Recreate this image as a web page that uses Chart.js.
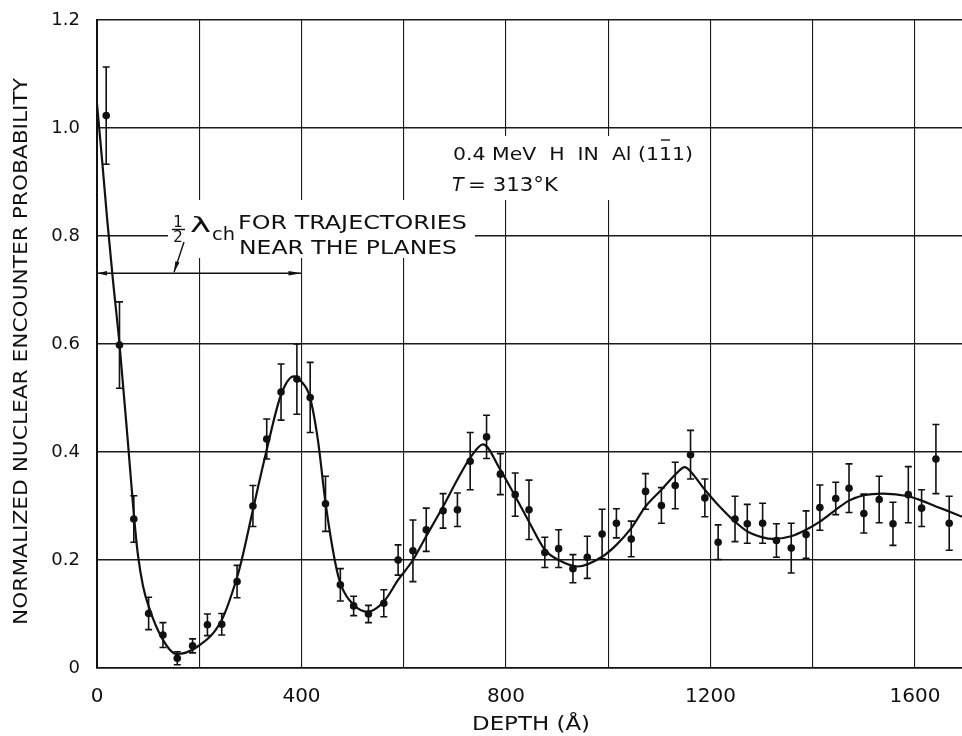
<!DOCTYPE html>
<html>
<head>
<meta charset="utf-8">
<title>Nuclear encounter probability vs depth</title>
<script src="https://cdn.jsdelivr.net/npm/chart.js@4.4.1/dist/chart.umd.min.js"></script>
<style>
  body { margin: 0; background: #fff; }
  canvas { display: block; }
</style>
</head>
<body>
<canvas id="chart" width="962" height="736"></canvas>
<script>
// measured points: depth (Å), normalized probability, half error bar
const depth = [18, 44, 72, 101, 129, 157, 187, 216, 244, 274,
  305, 332, 360, 391, 417, 447, 476, 502, 531, 561,
  589, 618, 644, 677, 705, 730, 762, 789, 818, 845,
  876, 903, 931, 959, 988, 1016, 1045, 1073, 1104, 1131,
  1161, 1189, 1215, 1248, 1272, 1302, 1329, 1358, 1387, 1414,
  1445, 1471, 1500, 1530, 1557, 1587, 1613, 1641, 1667];
const probability = [1.023, 0.598, 0.276, 0.101, 0.061, 0.018, 0.041, 0.080, 0.081, 0.160,
  0.300, 0.424, 0.511, 0.535, 0.501, 0.304, 0.154, 0.115, 0.100, 0.120,
  0.200, 0.217, 0.256, 0.291, 0.293, 0.383, 0.428, 0.359, 0.321, 0.293,
  0.214, 0.221, 0.184, 0.205, 0.248, 0.268, 0.239, 0.327, 0.301, 0.338,
  0.395, 0.315, 0.233, 0.276, 0.267, 0.268, 0.236, 0.222, 0.247, 0.297,
  0.314, 0.333, 0.286, 0.312, 0.267, 0.321, 0.296, 0.387, 0.268];
const errors = [0.09, 0.08, 0.043, 0.03, 0.023, 0.012, 0.013, 0.02, 0.02, 0.03,
  0.038, 0.037, 0.052, 0.065, 0.065, 0.051, 0.03, 0.018, 0.016, 0.025,
  0.028, 0.057, 0.04, 0.032, 0.031, 0.053, 0.04, 0.038, 0.04, 0.055,
  0.028, 0.035, 0.026, 0.039, 0.046, 0.027, 0.033, 0.033, 0.033, 0.043,
  0.045, 0.035, 0.032, 0.042, 0.036, 0.037, 0.031, 0.046, 0.044, 0.042,
  0.03, 0.045, 0.036, 0.043, 0.04, 0.052, 0.034, 0.064, 0.05];

// smooth fitted curve through the data
const fitDepth = [0, 10, 20, 31, 44, 62, 72, 80, 90, 101, 129, 155, 194, 244, 274, 283, 305, 331, 360, 385, 400, 416,
  432, 447, 465, 476, 502, 530, 561, 589, 618, 644, 677, 705, 730, 755, 789, 818, 845, 876, 903, 941,
  988, 1016, 1045, 1073, 1104, 1131, 1150, 1161, 1189, 1215, 1248, 1272, 1302, 1322, 1358, 1387, 1414,
  1445, 1471, 1500, 1538, 1587, 1613, 1641, 1667, 1692];
const fitValue = [1.045, 0.94, 0.83, 0.72, 0.60, 0.40, 0.285, 0.21, 0.152, 0.114, 0.052, 0.026, 0.038, 0.089, 0.168, 0.20, 0.293, 0.40, 0.506, 0.54, 0.53, 0.503,
  0.423, 0.306, 0.20, 0.157, 0.117, 0.104, 0.123, 0.163, 0.20, 0.244, 0.299, 0.349, 0.389, 0.414, 0.367, 0.318, 0.271, 0.219, 0.20, 0.188,
  0.206, 0.228, 0.259, 0.299, 0.33, 0.358, 0.372, 0.364, 0.33, 0.302, 0.271, 0.253, 0.242, 0.239, 0.244, 0.256, 0.271,
  0.293, 0.31, 0.32, 0.323, 0.318, 0.31, 0.299, 0.29, 0.28];

const xTicks = [0, 400, 800, 1200, 1600];
const yTicks = ['0', '0.2', '0.4', '0.6', '0.8', '1.0', '1.2'];

const INK = '#111';
const FONT = '"DejaVu Sans"';

// draw text squeezed/stretched to a given width
function fitText(ctx, text, x, y, width, align) {
  const w = ctx.measureText(text).width;
  ctx.save();
  ctx.translate(x, y);
  ctx.scale(width / w, 1);
  ctx.textAlign = align || 'left';
  ctx.fillText(text, 0, 0);
  ctx.restore();
  return width / w;
}

function arrowHead(ctx, x, y, angle, len, half) {
  ctx.save();
  ctx.translate(x, y);
  ctx.rotate(angle);
  ctx.beginPath();
  ctx.moveTo(0, 0);
  ctx.lineTo(-len, -half);
  ctx.lineTo(-len, half);
  ctx.closePath();
  ctx.fill();
  ctx.restore();
}

const errorBars = {
  id: 'errorBars',
  afterDatasetsDraw(chart) {
    const { ctx, scales: { x, y } } = chart;
    ctx.save();
    ctx.strokeStyle = INK;
    ctx.lineWidth = 1.6;
    depth.forEach((d, i) => {
      const px = x.getPixelForValue(d);
      const top = y.getPixelForValue(probability[i] + errors[i]);
      const bot = y.getPixelForValue(probability[i] - errors[i]);
      ctx.beginPath();
      ctx.moveTo(px, top); ctx.lineTo(px, bot);
      ctx.moveTo(px - 3.5, top); ctx.lineTo(px + 3.5, top);
      ctx.moveTo(px - 3.5, bot); ctx.lineTo(px + 3.5, bot);
      ctx.stroke();
    });
    ctx.restore();
  }
};

const notes = {
  id: 'notes',
  afterDraw(chart) {
    const { ctx, scales: { x, y } } = chart;
    ctx.save();
    ctx.strokeStyle = INK;

    // white boxes behind the labels break the grid
    ctx.fillStyle = '#fff';
    ctx.fillRect(168, 200, 307, 58);
    ctx.fillRect(440, 136, 262, 64);
    ctx.fillStyle = INK;

    // axis titles
    ctx.textBaseline = 'middle';
    ctx.font = '20px ' + FONT;
    ctx.save();
    ctx.translate(22, 351.5);
    ctx.rotate(-Math.PI / 2);
    fitText(ctx, 'NORMALIZED NUCLEAR ENCOUNTER PROBABILITY', 0, 0, 547, 'center');
    ctx.restore();
    ctx.font = '20px ' + FONT;
    fitText(ctx, 'DEPTH (Å)', 531, 725, 118, 'center');

    // beam / target label
    ctx.textBaseline = 'alphabetic';
    ctx.font = '18px ' + FONT;
    const line1 = '0.4 MeV  H  IN  Al (111)';
    const k = fitText(ctx, line1, 453, 160, 240, 'left');
    const pre = ctx.measureText('0.4 MeV  H  IN  Al (1').width * k;
    const one = ctx.measureText('1').width * k;
    ctx.lineWidth = 1.4;
    ctx.beginPath();
    ctx.moveTo(453 + pre + 2, 140);
    ctx.lineTo(453 + pre + one - 2, 140);
    ctx.stroke();
    ctx.font = 'italic 19px ' + FONT;
    ctx.fillText('T', 452, 190.5);
    ctx.font = '19px ' + FONT;
    fitText(ctx, '= 313°K', 468, 190.5, 90, 'left');

    // 1/2 lambda_ch label
    ctx.font = '15px ' + FONT;
    ctx.textAlign = 'center';
    ctx.fillText('1', 178, 227);
    ctx.fillText('2', 178, 242);
    ctx.lineWidth = 1.4;
    ctx.beginPath();
    ctx.moveTo(172, 229.5); ctx.lineTo(185, 229.5);
    ctx.stroke();
    ctx.textAlign = 'left';
    ctx.font = '22px ' + FONT;
    fitText(ctx, 'λ', 190, 232, 21, 'left');
    ctx.font = '18px ' + FONT;
    fitText(ctx, 'ch', 212, 240, 23, 'left');
    ctx.font = '20px ' + FONT;
    fitText(ctx, 'FOR TRAJECTORIES', 238, 228.5, 229, 'left');
    fitText(ctx, 'NEAR THE PLANES', 239, 253.5, 218, 'left');

    // span arrow from 0 to 400 Å
    const ay = y.getPixelForValue(0.731);
    const ax0 = x.getPixelForValue(0);
    const ax1 = x.getPixelForValue(400);
    ctx.lineWidth = 1.4;
    ctx.beginPath();
    ctx.moveTo(ax0, ay); ctx.lineTo(ax1, ay);
    ctx.stroke();
    arrowHead(ctx, ax1, ay, 0, 13, 2.2);
    arrowHead(ctx, ax0, ay, Math.PI, 10, 2.2);
    // leader from the label
    const lx0 = 184, ly0 = 242, lx1 = 174, ly1 = ay - 1;
    ctx.beginPath();
    ctx.moveTo(lx0, ly0); ctx.lineTo(lx1, ly1);
    ctx.stroke();
    arrowHead(ctx, lx1, ly1, Math.atan2(ly1 - ly0, lx1 - lx0), 11, 2.2);

    ctx.restore();
  }
};

new Chart(document.getElementById('chart').getContext('2d'), {
  type: 'scatter',
  data: {
    datasets: [{
      label: 'fit',
      data: fitDepth.map((d, i) => ({ x: d, y: fitValue[i] })),
      showLine: true,
      borderColor: INK,
      borderWidth: 2.2,
      pointRadius: 0,
      cubicInterpolationMode: 'monotone',
      order: 2
    }, {
      label: 'measured',
      data: depth.map((d, i) => ({ x: d, y: probability[i] })),
      pointRadius: 3.8,
      backgroundColor: INK,
      borderColor: INK,
      borderWidth: 0,
      order: 1
    }]
  },
  options: {
    responsive: false,
    animation: false,
    devicePixelRatio: 1,
    layout: { autoPadding: false, padding: { top: 20, right: 0, left: 0, bottom: 0 } },
    plugins: { legend: { display: false }, tooltip: { enabled: false } },
    scales: {
      x: {
        type: 'linear',
        min: 0,
        max: 1692,
        afterFit(scale) { scale.height = 68; scale.paddingRight = 0; },
        ticks: {
          stepSize: 200,
          includeBounds: false,
          autoSkip: false,
          maxRotation: 0,
          padding: 17,
          color: INK,
          font: { family: 'DejaVu Sans', size: 20 },
          callback: v => xTicks.includes(v) ? String(v) : ''
        },
        grid: { color: '#1a1a1a', lineWidth: 1.1, drawTicks: false },
        border: { color: INK, width: 1.6 }
      },
      y: {
        min: 0,
        max: 1.2,
        afterFit(scale) { scale.width = 97; scale.paddingTop = 0; scale.paddingBottom = 0; },
        ticks: {
          stepSize: 0.2,
          padding: 17,
          color: INK,
          font: { family: 'DejaVu Sans', size: 18 },
          callback: v => yTicks[Math.round(v / 0.2)]
        },
        grid: { color: '#1a1a1a', lineWidth: 1.6, drawTicks: false },
        border: { color: INK, width: 2 }
      }
    }
  },
  plugins: [errorBars, notes]
});
</script>
</body>
</html>
